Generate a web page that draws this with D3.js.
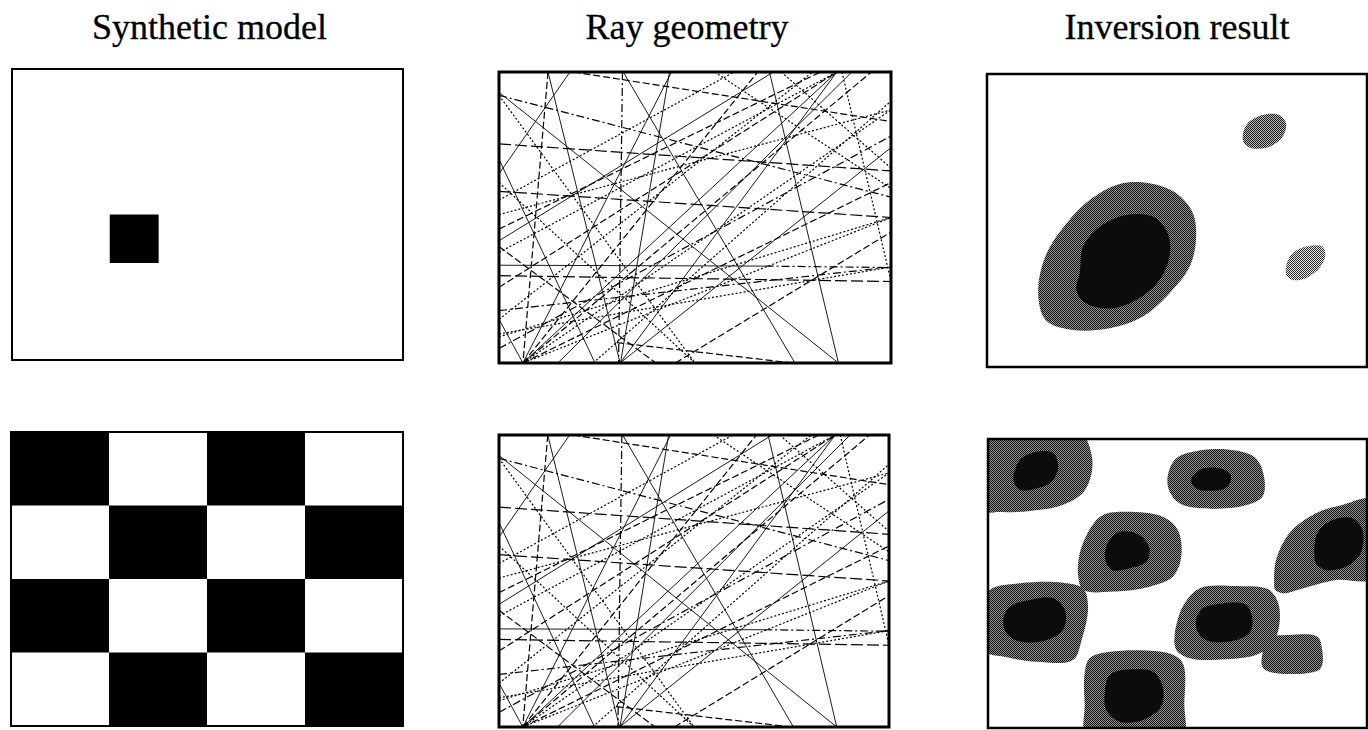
<!DOCTYPE html>
<html><head><meta charset="utf-8">
<script src="https://cdn.jsdelivr.net/npm/d3@7"></script>
<style>body{margin:0;background:#fff}svg{display:block}</style>
</head><body>
<svg id="c" width="1368" height="730"></svg>
<script>
// ---------------- DATA ----------------
const panelTitles = ["Synthetic model", "Ray geometry", "Inversion result"];

// model 1: 8 x 6 cell grid, one anomalous (slow) cell
const modelSquare = [
  [0,0,0,0,0,0,0,0],
  [0,0,0,0,0,0,0,0],
  [0,0,0,0,0,0,0,0],
  [0,0,1,0,0,0,0,0],
  [0,0,0,0,0,0,0,0],
  [0,0,0,0,0,0,0,0]
];
// model 2: 4 x 4 checkerboard
const modelChecker = [
  [1,0,1,0],
  [0,1,0,1],
  [1,0,1,0],
  [0,1,0,1]
];

// rays: [x1, y1, x2, y2, style] in model units (0-100 across, 0-100 down)
const rays = [
  [12.5,0, 30.9,100,"s"], [31.7,0, 75.5,100,"s"], [43.5,0, 31.0,100,"s"],
  [69.0,0, 86.6,100,"s"], [87.5,0, 100,72,"t"],   [12.5,0, 6.1,100,"d"],
  [31.5,0, 30.5,100,"dd"], [18.1,0, 0,35,"s"],    [0,8, 100,43,"dd"],
  [19,0, 100,17,"d"],     [0,24.7, 100,34,"ld"],  [0,41, 100,50,"ld"],
  [0,49, 100,13,"t"],     [0,66.4, 68,66.7,"s"],  [68,66.7, 100,67.2,"dd"],
  [0,82, 100,67,"dd"],    [0,91, 100,50,"t"],     [0,70, 100,72,"ld"],
  [30,93, 75,100,"d"],    [6.1,100, 86.2,0,"s"],  [0,74, 86.2,0,"d"],
  [0,62, 86.2,0,"t"],     [30.9,100, 86.2,0,"s"], [6.1,100, 95,0,"d"],
  [0,85, 80,0,"t"],       [6.1,100, 100,13,"t"],  [6.1,100, 44,0,"s"],
  [6.1,100, 66,0,"d"],    [0,95, 100,22,"dd"],    [30.9,100, 100,26,"s"],
  [0,58, 70,0,"s"],       [0,30, 24.5,100,"s"],   [0,8, 50,100,"t"],
  [0,7, 86.6,100,"s"],    [72,0, 100,33,"t"],     [0,85, 6.1,100,"s"],
  [0,90, 100,67,"t"],     [6.1,100, 100,50,"t"],  [6.1,100, 100,38,"d"],
  [0,54, 82,0,"d"],       [0,44, 60,0,"t"],       [24,100, 100,10,"t"],
  [15,100, 90,0,"s"],     [45,100, 100,55,"d"],   [55,0, 100,40,"t"],
  [0,38, 50,100,"t"],     [0,60, 40,100,"d"]
];

// inversion result 1 (single square): contour polygons in model units
const inv1Ring  = [[14.4,81.7],[13.5,72.6],[15.7,61.2],[20.9,51.0],[27.0,43.0],[34.9,37.5],[42.8,37.3],[49.8,40.7],[54.2,47.5],[55.0,56.7],[53.3,65.8],[48.0,74.9],[41.0,82.8],[32.3,86.8],[22.7,87.4],[16.5,85.1]];
const inv1Core  = [[24.4,68.0],[25.3,58.9],[29.7,52.1],[36.7,48.1],[43.7,48.7],[47.6,54.4],[48.0,62.4],[45.4,70.3],[39.3,77.1],[32.3,80.0],[26.2,78.3],[23.5,73.7]];
const inv1SpotA = [[67.3,20.8],[68.6,16.8],[72.5,14.0],[76.9,14.0],[78.7,16.8],[77.8,21.4],[74.3,24.8],[69.9,25.4],[67.7,23.7]];
const inv1SpotB = [[78.7,65.8],[80.0,61.8],[83.9,58.9],[88.3,58.9],[89.0,62.4],[87.4,66.3],[83.9,69.7],[80.4,70.3],[78.8,68.6]];

// inversion result 2 (checkerboard): rings and cores in model units
const inv2Rings = [
  [[-2.1,-3.1],[24.2,-2.4],[27.4,5.9],[27.1,13.1],[25.0,18.7],[19.7,22.8],[11.1,24.9],[3.2,25.3],[-2.1,24.6]],
  [[47.4,13.0],[49.7,6.7],[56.7,3.8],[65.4,4.0],[70.7,6.7],[72.9,13.6],[72.4,20.0],[67.2,23.2],[56.7,24.0],[50.5,22.2],[47.9,18.2]],
  [[23.8,47.6],[24.2,39.6],[27.3,30.3],[30.3,26.3],[36.5,25.2],[46.1,26.9],[50.1,31.5],[51.0,40.7],[48.8,47.6],[42.6,51.1],[33.0,52.8],[25.1,52.2]],
  [[75.5,48.8],[76.0,41.9],[79.5,32.6],[86.5,25.7],[93.5,22.8],[101.8,21.1],[101.8,48.1],[91.8,48.8],[83.0,51.7],[77.7,53.4],[75.8,52.2]],
  [[-1.6,58.0],[0.5,52.2],[8.4,49.9],[19.8,49.7],[25.1,51.7],[26.4,58.0],[24.7,69.6],[22.4,76.5],[12.8,77.1],[4.0,75.3],[-1.6,73.0]],
  [[49.2,68.4],[51.4,58.0],[55.8,51.7],[65.4,50.9],[74.2,52.2],[76.8,58.0],[76.0,68.4],[71.6,74.2],[62.8,76.2],[53.2,75.9],[49.7,73.0]],
  [[72.4,74.2],[73.8,69.0],[79.5,67.8],[86.9,68.4],[88.2,73.0],[87.8,79.3],[83.9,81.1],[74.2,80.5],[72.4,78.8]],
  [[25.5,81.1],[26.8,75.9],[32.1,73.6],[47.9,74.2],[51.4,77.6],[51.8,91.5],[51.1,104.2],[26.3,104.2],[25.5,91.8]]
];
const inv2Cores = [
  [[6.7,14.2],[8.4,7.3],[12.8,4.4],[17.2,4.9],[18.5,9.6],[16.8,14.8],[12.8,17.1],[8.4,17.6]],
  [[53.6,14.2],[55.8,10.7],[61.1,10.1],[64.1,12.5],[63.2,16.5],[59.3,17.9],[54.9,17.1]],
  [[30.8,40.7],[32.1,34.9],[34.7,32.1],[40.0,33.2],[42.6,37.8],[41.8,42.5],[37.4,44.7],[32.6,45.3]],
  [[86.1,39.6],[86.9,32.6],[90.9,28.0],[96.1,27.4],[98.8,31.5],[98.3,39.6],[94.4,44.2],[89.1,45.3],[86.5,43.0]],
  [[4.0,62.6],[5.8,58.0],[11.1,55.7],[17.2,55.1],[20.3,59.2],[19.8,66.1],[15.4,69.6],[8.4,70.1],[4.9,67.2]],
  [[54.9,62.6],[56.7,58.6],[61.9,56.9],[68.1,57.4],[69.8,62.6],[68.9,67.2],[63.7,70.1],[57.6,69.6],[55.3,66.7]],
  [[30.8,88.0],[32.1,81.7],[37.4,79.7],[43.5,80.5],[46.1,85.7],[45.7,92.6],[40.9,97.2],[34.7,97.8],[31.2,93.8]]
];

// ---------------- LAYOUT ----------------
const panels = {
  m1: {x0:12,  y0:69,  x1:403,  y1:360, w:2},
  r1: {x0:499, y0:72,  x1:891,  y1:363, w:3},
  i1: {x0:987, y0:74,  x1:1367, y1:367, w:2.5},
  m2: {x0:11,  y0:432, x1:403,  y1:726, w:2},
  r2: {x0:499, y0:435, x1:889,  y1:727, w:3},
  i2: {x0:988, y0:439, x1:1367, y1:728, w:2.5}
};
const titleCenters = [
  (panels.m1.x0+panels.m1.x1)/2 + 2, (panels.r1.x0+panels.r1.x1)/2 - 8, (panels.i1.x0+panels.i1.x1)/2
];

const svg = d3.select("#c");
const defs = svg.append("defs");

function halftone(id, dark, light){
  const p = defs.append("pattern").attr("id", id)
    .attr("width", 2).attr("height", 2).attr("patternUnits", "userSpaceOnUse");
  p.append("rect").attr("width", 2).attr("height", 2).attr("fill", light);
  p.append("rect").attr("width", 1).attr("height", 1).attr("fill", dark);
  p.append("rect").attr("x", 1).attr("y", 1).attr("width", 1).attr("height", 1).attr("fill", dark);
}
halftone("htRing", "#0a0a0a", "#9a9a9a");
halftone("htMid", "#151515", "#c0c0c0");
halftone("htLight", "#2a2a2a", "#e8e8e8");

Object.entries(panels).forEach(([k, p]) => {
  defs.append("clipPath").attr("id", "clip-" + k)
    .append("rect").attr("x", p.x0).attr("y", p.y0)
    .attr("width", p.x1 - p.x0).attr("height", p.y1 - p.y0);
});

function scalesFor(p){
  return {
    x: d3.scaleLinear().domain([0,100]).range([p.x0, p.x1]),
    y: d3.scaleLinear().domain([0,100]).range([p.y0, p.y1])
  };
}

// titles
svg.selectAll("text.title").data(panelTitles).join("text")
  .attr("class", "title")
  .attr("x", (d,i) => titleCenters[i]).attr("y", 39)
  .attr("text-anchor", "middle")
  .style("font-family", "'Liberation Serif','Times New Roman',serif")
  .style("font-size", "36px").attr("fill", "#000")
  .attr("stroke", "#000").attr("stroke-width", 0.3)
  .text(d => d);

// ---- model grids ----
function drawGrid(key, grid){
  const p = panels[key];
  const g = svg.append("g").attr("clip-path", `url(#clip-${key})`);
  const xb = d3.scaleBand().domain(d3.range(grid[0].length)).range([p.x0, p.x1]);
  const yb = d3.scaleBand().domain(d3.range(grid.length)).range([p.y0, p.y1]);
  const cells = grid.flatMap((row, r) => row.map((v, c) => ({r, c, v})));
  g.selectAll("rect").data(cells.filter(d => d.v === 1)).join("rect")
    .attr("x", d => xb(d.c)).attr("y", d => yb(d.r))
    .attr("width", xb.bandwidth()).attr("height", yb.bandwidth())
    .attr("fill", "#000");
}
drawGrid("m1", modelSquare);
drawGrid("m2", modelChecker);

// ---- rays ----
const dashes = {s: null, d: "7,3", t: "2,2", dd: "8,3,2,3", ld: "12,4"};
function drawRays(key){
  const p = panels[key];
  const {x, y} = scalesFor(p);
  const g = svg.append("g").attr("clip-path", `url(#clip-${key})`);
  g.selectAll("line").data(rays).join("line")
    .attr("x1", d => x(d[0])).attr("y1", d => y(d[1]))
    .attr("x2", d => x(d[2])).attr("y2", d => y(d[3]))
    .attr("stroke", "#000")
    .attr("stroke-width", d => d[4] === "s" ? 0.9 : 1.2)
    .attr("stroke-dasharray", d => dashes[d[4]]);
}
drawRays("r1");
drawRays("r2");

// ---- inversion results ----
function drawBlobs(key, layers){
  const p = panels[key];
  const {x, y} = scalesFor(p);
  const line = d3.line().x(d => x(d[0])).y(d => y(d[1])).curve(d3.curveCatmullRomClosed.alpha(0.5));
  const g = svg.append("g").attr("clip-path", `url(#clip-${key})`);
  layers.forEach(L => {
    g.selectAll(null).data(L.shapes).join("path")
      .attr("d", line).attr("fill", L.fill);
  });
}
drawBlobs("i1", [
  {shapes: [inv1Ring], fill: "url(#htRing)"},
  {shapes: [inv1SpotA], fill: "url(#htMid)"},
  {shapes: [inv1SpotB], fill: "url(#htLight)"},
  {shapes: [inv1Core], fill: "#0c0c0c"}
]);
drawBlobs("i2", [
  {shapes: inv2Rings, fill: "url(#htRing)"},
  {shapes: inv2Cores, fill: "#0c0c0c"}
]);

// ---- panel frames ----
svg.selectAll("rect.frame").data(Object.values(panels)).join("rect")
  .attr("class", "frame")
  .attr("x", d => d.x0).attr("y", d => d.y0)
  .attr("width", d => d.x1 - d.x0).attr("height", d => d.y1 - d.y0)
  .attr("fill", "none").attr("stroke", "#000").attr("stroke-width", d => d.w);
</script>
</body></html>
